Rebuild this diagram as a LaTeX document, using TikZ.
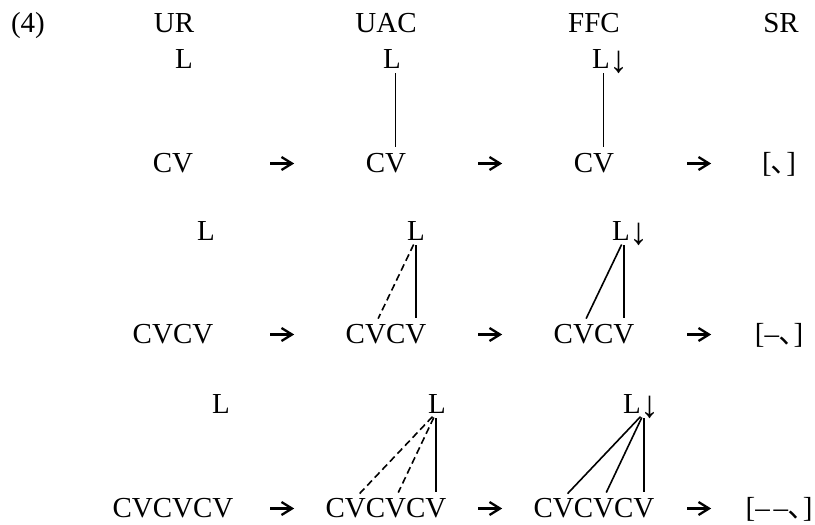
\documentclass[tikz,border=0pt]{standalone}
\usepackage{fontspec}
\setmainfont{Liberation Serif}
\newfontfamily\cjkfont{Noto Sans CJK JP}
\def\sylw{40.28}
\newcommand\cvword[4]{%
  \foreach \i in {1,...,#2}{%
    \node[txt, anchor=base west] (#1c\i) at ({#3+(\i-1-#2/2)*\sylw}, #4) {C};
    \node[txt, anchor=base west] (#1v\i) at (#1c\i.base east) {V};
  }}
\newcommand\downmark{{\fontsize{38}{40}\selectfont\raisebox{-4.5pt}{↓}}}
\tikzset{
  txt/.style={inner sep=0pt, outer sep=0pt},
  lnk/.style={line width=1.6pt, shorten <=5pt, shorten >=6pt},
  dlnk/.style={lnk, dash pattern=on 7pt off 4pt},
  tarrow/.pic={
    \draw[line width=2.3pt] (0,0) -- (21,0);
    \draw[line width=2.3pt, line join=miter] (11.5,-6.5) -- (22,0) -- (11.5,6.5);
  }
}
\begin{document}
\begin{tikzpicture}[x=1pt, y=-1pt, font=\fontsize{29}{34}\selectfont]
\useasboundingbox (0,0) rectangle (815,525);

% headers
\node[txt, anchor=base west] (num) at (11,32) {(4)};
\node[txt, anchor=base] (hur) at (174,32) {UR};
\node[txt, anchor=base] (huac) at (386,32) {UAC};
\node[txt, anchor=base] (hffc) at (594,32) {FFC};
\node[txt, anchor=base] (hsr) at (781,32) {SR};

% tone L nodes
\node[txt, anchor=base west] (pL1) at (175,68) {L};
\node[txt, anchor=base west] (pL2) at (383,68) {L};
\node[txt, anchor=base west] (pL3) at (592,68) {L\downmark};
\node[txt, anchor=base west] (qL1) at (197,240) {L};
\node[txt, anchor=base west] (qL2) at (407,240) {L};
\node[txt, anchor=base west] (qL3) at (612,240) {L\downmark};
\node[txt, anchor=base west] (rL1) at (212,413) {L};
\node[txt, anchor=base west] (rL2) at (428,413) {L};
\node[txt, anchor=base west] (rL3) at (623,413) {L\downmark};

% CV strings
\cvword{p1}{1}{173}{172}
\cvword{p2}{1}{386}{172}
\cvword{p3}{1}{594}{172}
\cvword{q1}{2}{173}{343}
\cvword{q2}{2}{386}{343}
\cvword{q3}{2}{594}{343}
\cvword{r1}{3}{173}{517}
\cvword{r2}{3}{386}{517}
\cvword{r3}{3}{594}{517}

% surface representations
\node[txt, anchor=base] (psr) at (779,172) {[{\cjkfont ､}]};
\node[txt, anchor=base] (qsr) at (779,343) {[–{\cjkfont ､}]};
\node[txt, anchor=base] (rsr) at (779,517) {[–\kern4pt–{\cjkfont ､}]};

% association lines
\draw[lnk] (pL2.base -| p2v1.north) -- (p2v1.north);
\draw[lnk] (pL3.base -| p3v1.north) -- (p3v1.north);

\draw[lnk] (qL2.base -| q2v2.north) -- (q2v2.north);
\draw[dlnk] (qL2.base -| q2v2.north) -- (q2v1.north);
\draw[lnk] (qL3.base -| q3v2.north) -- (q3v2.north);
\draw[lnk] (qL3.base -| q3v2.north) -- (q3v1.north);

\draw[lnk] (rL2.base -| r2v3.north) -- (r2v3.north);
\draw[dlnk] (rL2.base -| r2v3.north) -- (r2v2.north);
\draw[dlnk] (rL2.base -| r2v3.north) -- (r2v1.north);
\draw[lnk] (rL3.base -| r3v3.north) -- (r3v3.north);
\draw[lnk] (rL3.base -| r3v3.north) -- (r3v2.north);
\draw[lnk] (rL3.base -| r3v3.north) -- (r3v1.north);

% derivation arrows
\coordinate (pa1) at (270,163.5);
\coordinate (pa2) at (478,163.5);
\coordinate (pa3) at (687,163.5);
\coordinate (qa1) at (270,334.5);
\coordinate (qa2) at (478,334.5);
\coordinate (qa3) at (687,334.5);
\coordinate (ra1) at (270,508.5);
\coordinate (ra2) at (478,508.5);
\coordinate (ra3) at (687,508.5);
\foreach \a in {pa1,pa2,pa3,qa1,qa2,qa3,ra1,ra2,ra3} {\pic at (\a) {tarrow};}
\end{tikzpicture}
\end{document}
